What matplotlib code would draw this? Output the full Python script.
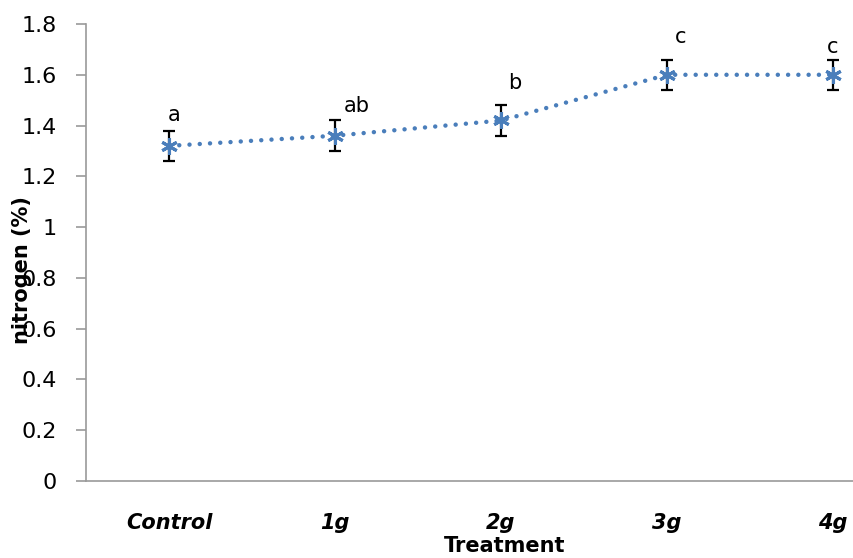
import numpy as np
import matplotlib
matplotlib.use("Agg")
import matplotlib.pyplot as plt

# data
treatments = ["Control", "1g", "2g", "3g", "4g"]
nitrogen = [1.32, 1.36, 1.42, 1.60, 1.60]
err = [0.06, 0.06, 0.06, 0.06, 0.06]
letters = ["a", "ab", "b", "c", "c"]
yticks = [0, 0.2, 0.4, 0.6, 0.8, 1.0, 1.2, 1.4, 1.6, 1.8]

# letter offsets (points) from the top of each error bar
letter_off = [(4, 4), (16, 3), (10, 9), (10, 9), (0, 2)]

blue = "#4A7EBB"

fig = plt.figure(figsize=(8.54, 5.58), dpi=100)
# the plot area runs past the right edge of the figure, as in the original
ax = fig.add_axes([86 / 854, 77 / 558, 830 / 854, 457 / 558])

x = np.arange(len(treatments)) + 0.5
ax.errorbar(x, nitrogen, yerr=err, fmt="none", ecolor="black",
            elinewidth=1.6, capsize=4.5, capthick=1.6, zorder=2)
ax.plot(x, nitrogen, color=blue, lw=3.2, linestyle=(0, (0.01, 2.3)),
        dash_capstyle="round", zorder=3)
ax.plot(x, nitrogen, linestyle="none", marker=(6, 2, 0), markersize=12,
        markeredgecolor=blue, markeredgewidth=2.2, zorder=4)

for xi, yi, e, lab, (dx, dy) in zip(x, nitrogen, err, letters, letter_off):
    ax.annotate(lab, (xi, yi + e), xytext=(dx, dy), textcoords="offset points",
                ha="center", va="bottom", fontsize=15, color="black")

ax.set_xlim(0, len(treatments))
ax.set_ylim(0, 1.8)
ax.set_yticks(yticks)
ax.set_yticklabels(["%g" % v for v in yticks], fontsize=16)
ax.set_xticks(x)
ax.set_xticklabels(treatments, fontsize=15, fontweight="bold", style="italic")

for s in ["top", "right"]:
    ax.spines[s].set_visible(False)
for s in ["left", "bottom"]:
    ax.spines[s].set_color("#9a9a9a")
    ax.spines[s].set_linewidth(1.2)
ax.tick_params(axis="y", direction="out", length=7, color="#9a9a9a", width=1.2, pad=14)
ax.tick_params(axis="x", length=0, pad=23)

fig.text(22 / 854, 1 - 270 / 558, "nitrogen (%)", rotation=90, ha="center", va="center",
         fontsize=15, fontweight="bold")
fig.text(505 / 854, 1 - 546 / 558, "Treatment", ha="center", va="center",
         fontsize=15, fontweight="bold")

fig.savefig("out.png", dpi=100)
